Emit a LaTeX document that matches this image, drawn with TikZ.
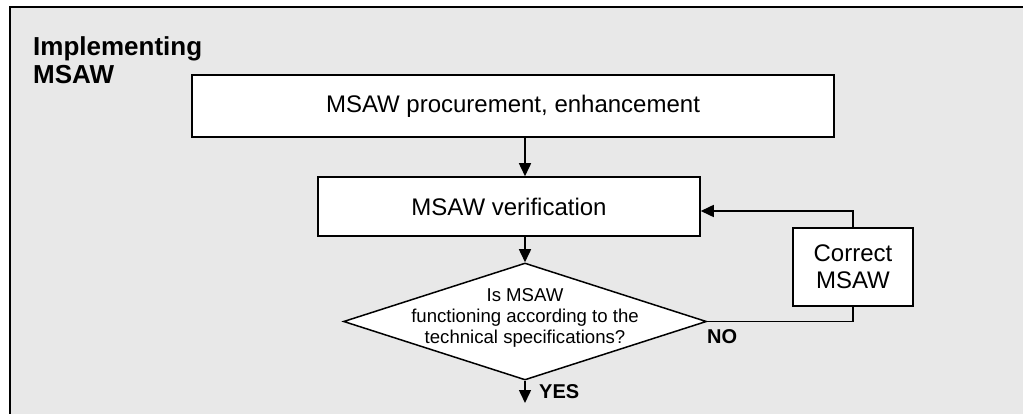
\documentclass[tikz,border=0pt]{standalone}
\usepackage{fontspec}
\setmainfont{Liberation Sans}
\usetikzlibrary{arrows.meta,shapes.geometric}
\definecolor{bgray}{RGB}{232,232,232}
\begin{document}
\begin{tikzpicture}[x=1pt,y=-1pt,
  box/.style={draw,fill=white,line width=1.5pt,inner sep=0pt,align=center,font=\fontsize{24}{28}\selectfont},
  link/.style={line width=1.5pt},
  arr/.style={link,-{Triangle[length=13pt,width=12pt]}},
  lbl/.style={font=\bfseries\fontsize{20}{24}\selectfont,inner sep=0pt}
]
\useasboundingbox (0,0) rectangle (1023,414);
\clip (0,0) rectangle (1023,414);
\draw[fill=bgray,line width=2pt] (10,7) rectangle (1060,450);
\node[anchor=north west,inner sep=0pt,align=left,font=\bfseries\fontsize{26}{28}\selectfont] (title) at (33,36) {Implementing\\MSAW};
\node[box,minimum width=642pt,minimum height=62pt] (proc) at (513,106) {MSAW procurement, enhancement};
\node[box,minimum width=382pt,minimum height=59pt] (ver) at (509,206.5) {MSAW verification};
\node[diamond,draw,fill=white,line width=1.5pt,minimum width=363pt,minimum height=117pt,inner sep=0pt] (dec) at (525,321.5) {};
\node[align=center,inner sep=0pt,font=\fontsize{18.6}{21}\selectfont] (dectext) at (525,318) {Is MSAW\\functioning according to the\\technical specifications?};
\node[box,minimum width=120pt,minimum height=78pt,font=\fontsize{24}{27}\selectfont] (corr) at (853,267) {Correct\\MSAW};
\draw[arr] (proc.south -| dec.north) -- (ver.north -| dec.north);
\draw[arr] (ver.south -| dec.north) -- (dec.north);
\coordinate (yesend) at (525,403);
\draw[arr] (dec.south) -- (yesend);
\node[lbl,anchor=west] (yes) at (539,392) {YES};
\coordinate (nocorner) at (corr.south |- dec.east);
\draw[link] (dec.east) -- (nocorner) -- (corr.south);
\node[lbl,anchor=west] (no) at (707,337) {NO};
\coordinate (backcorner) at (853,211);
\draw[arr] (corr.north) -- (backcorner) -- (backcorner -| ver.east);
\end{tikzpicture}
\end{document}
